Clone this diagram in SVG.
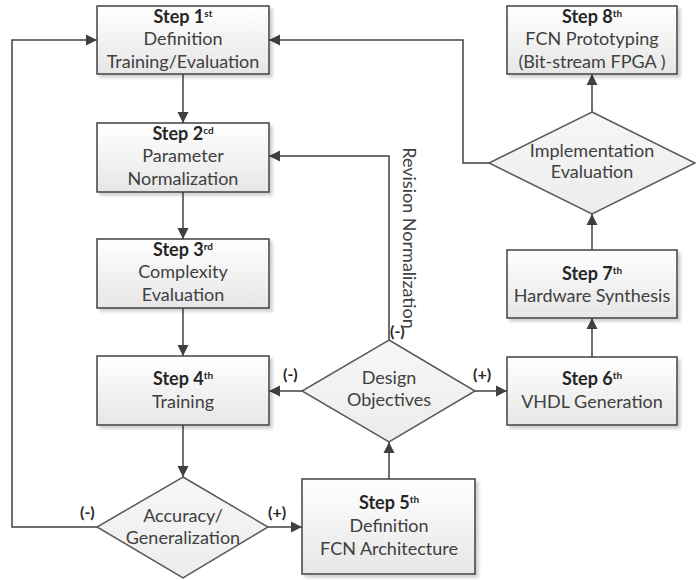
<svg xmlns="http://www.w3.org/2000/svg" width="700" height="580" viewBox="0 0 700 580">
<defs>
<linearGradient id="boxg" x1="0" y1="0" x2="0" y2="1">
<stop offset="0" stop-color="#ffffff"/>
<stop offset="1" stop-color="#e6e6e6"/>
</linearGradient>
<linearGradient id="diag" x1="0" y1="0" x2="0" y2="1">
<stop offset="0" stop-color="#f7f7f7"/>
<stop offset="1" stop-color="#ececec"/>
</linearGradient>
<filter id="sh" x="-10%" y="-10%" width="125%" height="130%">
<feDropShadow dx="3" dy="3" stdDeviation="1.5" flood-color="#000" flood-opacity="0.18"/>
</filter>
<marker id="arr" markerUnits="userSpaceOnUse" markerWidth="12" markerHeight="12" refX="11" refY="6" orient="auto">
<path d="M0,0.5 L11,6 L0,11.5 z" fill="#404040"/>
</marker>
</defs>
<style>
.box{fill:url(#boxg);stroke:#404040;stroke-width:1.5;filter:url(#sh)}
.dia{fill:url(#diag);stroke:#595959;stroke-width:1.5}
.t{font-family:Lato,"Liberation Sans",sans-serif;font-size:18px;fill:#404040;text-anchor:middle}
.b{font-weight:bold;fill:#262626}
.sup{font-size:10px;font-weight:bold}
.lbl{font-family:Lato,"Liberation Sans",sans-serif;font-size:16px;font-weight:bold;fill:#262626}
.c{fill:none;stroke:#404040;stroke-width:1.5}
.ca{fill:none;stroke:#404040;stroke-width:1.5;marker-end:url(#arr)}
</style>
<g id="connectors">
<path class="ca" d="M183,74 L183,123"/>
<path class="ca" d="M183,192 L183,239"/>
<path class="ca" d="M183,308 L183,356"/>
<path class="ca" d="M183,425 L183,477"/>
<path class="ca" d="M268,527 L302,527"/>
<path class="ca" d="M97,527 L12,527 L12,40 L97,40"/>
<path class="ca" d="M389,479 L389,442"/>
<path class="ca" d="M302,391 L269,391"/>
<path class="ca" d="M475,391 L507,391"/>
<path class="ca" d="M389,340 L389,156 L269,156"/>
<path class="ca" d="M592,357 L592,318"/>
<path class="ca" d="M592,250 L592,214"/>
<path class="ca" d="M592,112 L592,74"/>
<path class="ca" d="M489,163 L463,163 L463,40 L269,40"/>
<text class="lbl" x="80" y="518">(-)</text>
<text class="lbl" x="268" y="518">(+)</text>
<text class="lbl" x="283" y="380">(-)</text>
<text class="lbl" x="473" y="380">(+)</text>
<text class="lbl" x="390" y="337">(-)</text>
<text class="t" transform="translate(403,238) rotate(90)">Revision Normalization</text>
</g>
<g id="step1">
<rect class="box" x="97" y="6" width="172" height="68"/>
<text class="t b" x="183" y="23">Step 1<tspan class="sup" dy="-6">st</tspan></text>
<text class="t" x="183" y="45">Definition</text>
<text class="t" x="183" y="68">Training/Evaluation</text>
</g>
<g id="step2">
<rect class="box" x="97" y="123" width="172" height="69"/>
<text class="t b" x="183" y="140">Step 2<tspan class="sup" dy="-6">cd</tspan></text>
<text class="t" x="183" y="162">Parameter</text>
<text class="t" x="183" y="185">Normalization</text>
</g>
<g id="step3">
<rect class="box" x="97" y="239" width="172" height="69"/>
<text class="t b" x="183" y="256">Step 3<tspan class="sup" dy="-6">rd</tspan></text>
<text class="t" x="183" y="278">Complexity</text>
<text class="t" x="183" y="301">Evaluation</text>
</g>
<g id="step4">
<rect class="box" x="97" y="356" width="172" height="69"/>
<text class="t b" x="183" y="385">Step 4<tspan class="sup" dy="-6">th</tspan></text>
<text class="t" x="183" y="408">Training</text>
</g>
<g id="accuracy">
<polygon class="dia" points="183,477 268,527 183,578 97,527"/>
<text class="t" x="183" y="522">Accuracy/</text>
<text class="t" x="183" y="544">Generalization</text>
</g>
<g id="step5">
<rect class="box" x="302" y="479" width="173" height="95"/>
<text class="t b" x="389" y="509">Step 5<tspan class="sup" dy="-6">th</tspan></text>
<text class="t" x="389" y="532">Definition</text>
<text class="t" x="389" y="555">FCN Architecture</text>
</g>
<g id="design">
<polygon class="dia" points="389,340 475,391 389,442 302,391"/>
<text class="t" x="389" y="384">Design</text>
<text class="t" x="389" y="406">Objectives</text>
</g>
<g id="step6">
<rect class="box" x="507" y="357" width="170" height="68"/>
<text class="t b" x="592" y="385">Step 6<tspan class="sup" dy="-6">th</tspan></text>
<text class="t" x="592" y="408">VHDL Generation</text>
</g>
<g id="step7">
<rect class="box" x="507" y="250" width="170" height="68"/>
<text class="t b" x="592" y="280">Step 7<tspan class="sup" dy="-6">th</tspan></text>
<text class="t" x="592" y="302">Hardware Synthesis</text>
</g>
<g id="implementation">
<polygon class="dia" points="592,112 695,163 592,214 489,163"/>
<text class="t" x="592" y="157">Implementation</text>
<text class="t" x="592" y="178">Evaluation</text>
</g>
<g id="step8">
<rect class="box" x="507" y="6" width="170" height="68"/>
<text class="t b" x="592" y="23">Step 8<tspan class="sup" dy="-6">th</tspan></text>
<text class="t" x="592" y="45">FCN Prototyping</text>
<text class="t" x="592" y="68">(Bit-stream FPGA )</text>
</g>
</svg>
